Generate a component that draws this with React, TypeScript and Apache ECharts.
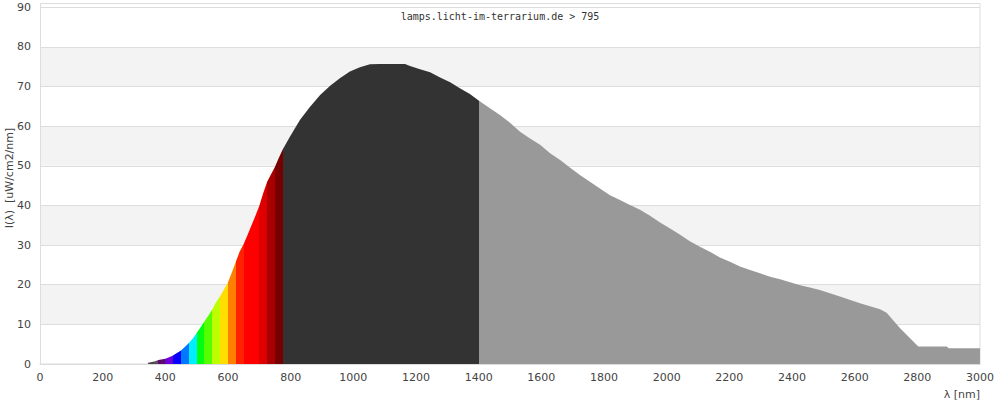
import React, { useEffect, useRef } from "react";
import * as echarts from "echarts";

const wavelengths = [
  345, 365, 378, 400, 412, 423, 437, 450, 462, 475, 487, 500, 512, 525, 537, 550, 562, 575, 587, 600,
  612, 625, 637, 650, 662, 675, 687, 700, 712, 725, 737, 750, 762, 775, 798, 830, 862, 894, 926, 957,
  989, 1021, 1053, 1085, 1165, 1181, 1213, 1245, 1277, 1309, 1340, 1372, 1400, 1436, 1468, 1500, 1532,
  1564, 1596, 1628, 1660, 1691, 1723, 1755, 1787, 1819, 1851, 1883, 1915, 1947, 1979, 2011, 2043, 2074,
  2106, 2138, 2170, 2202, 2234, 2266, 2298, 2330, 2362, 2394, 2426, 2457, 2489, 2553, 2617, 2681, 2702,
  2745, 2803, 2894, 2900, 3000,
];
const intensity = [
  0.3, 0.6, 1.0, 1.3, 1.7, 2.1, 2.8, 3.4, 4.3, 5.3, 6.4, 7.8, 9.2, 10.8, 12.2, 13.8, 15.6, 17.1, 18.8, 20.6,
  23.0, 25.8, 28.3, 30.3, 32.5, 35.0, 37.3, 39.9, 43.0, 46.0, 47.8, 49.8, 52.0, 54.2, 57.4, 61.6, 64.9, 67.9,
  70.2, 72.1, 73.8, 74.9, 75.6, 75.7, 75.7, 75.2, 74.4, 73.6, 72.3, 71.1, 69.6, 68.1, 66.5, 64.5, 62.8, 60.9,
  58.6, 56.9, 55.3, 53.2, 51.5, 49.6, 47.7, 46.0, 44.3, 42.6, 41.4, 40.1, 38.9, 37.4, 35.7, 34.2, 32.6, 31.0,
  29.6, 28.3, 26.9, 25.8, 24.6, 23.7, 22.9, 22.0, 21.4, 20.6, 19.9, 19.3, 18.7, 17.0, 15.3, 13.8, 12.9,
  9.0, 4.4, 4.4, 4.0, 4.0,
];

// colour bands along the wavelength axis
const bandStarts = [345, 365, 378, 400, 425, 450, 475, 500, 525, 550, 575, 600, 625, 650, 700, 725, 750, 775, 1400];
const bandEnds = [365, 378, 400, 425, 450, 475, 500, 525, 550, 575, 600, 625, 650, 700, 725, 750, 775, 1400, 3001];
const bandColors = [
  "#474747", "#5f4a5f", "#5c0a6c", "#6c00d8", "#0800ff", "#0078ff", "#00eeff", "#00ff10", "#55ff00",
  "#bdff00", "#ffde00", "#ff8000", "#ff2100", "#ff0000", "#de0000", "#a80000", "#760000", "#333333", "#999999",
];

const xTicks = { min: 0, max: 3000, interval: 200 };
const yTicks = { min: 0, max: 90, interval: 10 };

export default function App() {
  const ref = useRef<HTMLDivElement>(null);
  useEffect(() => {
    document.body.style.margin = "0";
    const chart = echarts.init(ref.current!, null, { renderer: "svg" });
    const data = wavelengths.map((w, i) => [w, intensity[i]]);
    const pieces = bandStarts.map((s, i) => ({ gte: s, lt: bandEnds[i], color: bandColors[i] }));
    const labelStyle = { fontFamily: "DejaVu Sans", fontSize: 11, color: "#444" };
    chart.setOption({
      animation: false,
      title: {
        text: "lamps.licht-im-terrarium.de > 795",
        left: "center",
        top: 6,
        textStyle: { fontFamily: "DejaVu Sans Mono", fontSize: 10, fontWeight: "normal", color: "#333" },
      },
      grid: { left: 40, right: 20, top: 7.3, bottom: 36, containLabel: false, outerBoundsMode: "none" },
      graphic: [
        {
          type: "rect",
          shape: { x: 40.5, y: 3.5, width: 939.5, height: 360.5 },
          style: { fill: "none", stroke: "#dddddd", lineWidth: 1 },
          z: 1,
          silent: true,
        },
        {
          type: "text",
          right: 20,
          top: 389,
          style: { text: "λ [nm]", font: "11px 'DejaVu Sans'", fill: "#444" },
        },
        {
          type: "text",
          x: 9,
          y: 178,
          rotation: Math.PI / 2,
          style: {
            text: "I(λ)  [uW/cm2/nm]",
            font: "11px 'DejaVu Sans'",
            fill: "#444",
            align: "center",
            verticalAlign: "middle",
          },
        },
      ],
      visualMap: {
        type: "piecewise",
        show: false,
        dimension: 0,
        seriesIndex: 0,
        pieces,
        outOfRange: { color: "#999999" },
      },
      xAxis: {
        type: "value",
        min: xTicks.min,
        max: xTicks.max,
        interval: xTicks.interval,
        axisLine: { show: true, lineStyle: { color: "#d8d8d8" } },
        axisTick: { show: false },
        axisLabel: { ...labelStyle, margin: 8, formatter: (v: number) => String(v) },
        splitLine: { show: false },
      },
      yAxis: {
        type: "value",
        min: yTicks.min,
        max: yTicks.max,
        interval: yTicks.interval,
        axisLine: { show: true, lineStyle: { color: "#d8d8d8" } },
        axisTick: { show: false },
        axisLabel: { ...labelStyle, margin: 9, formatter: (v: number) => String(v) },
        splitLine: { show: true, lineStyle: { color: "#dddddd", width: 1 } },
        splitArea: { show: true, areaStyle: { color: ["#ffffff", "#f3f3f3"] } },
      },
      series: [
        {
          type: "line",
          data,
          showSymbol: false,
          symbol: "none",
          lineStyle: { width: 0 },
          areaStyle: { opacity: 1 },
          z: 3,
        },
      ],
    });
    return () => chart.dispose();
  }, []);
  return <div ref={ref} style={{ width: 1000, height: 400 }} />;
}
